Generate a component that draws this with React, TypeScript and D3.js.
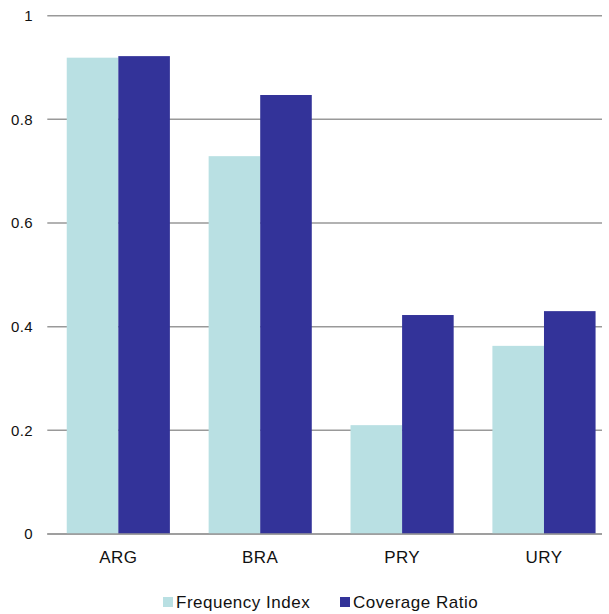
import React from "react";
import * as d3 from "d3";

const categories = ["ARG", "BRA", "PRY", "URY"];
const seriesNames = ["Frequency Index", "Coverage Ratio"];
const frequencyIndex = [0.919, 0.729, 0.21, 0.363];
const coverageRatio = [0.922, 0.847, 0.4225, 0.43];
const yTicks = [0, 0.2, 0.4, 0.6, 0.8, 1];
const colors = ["#B9E0E3", "#333399"];

export default function App() {
  const W = 609, H = 614;
  const left = 47.3, right = 602, top = 15.7, bottom = 534;
  const x = d3.scaleBand<string>().domain(categories).range([left, 615]).paddingInner(0.273).paddingOuter(0.137);
  const x1 = d3.scaleBand<string>().domain(seriesNames).range([0, x.bandwidth()]);
  const y = d3.scaleLinear().domain([0, 1]).range([bottom, top]);
  const series = [frequencyIndex, coverageRatio];
  const font = "'Liberation Sans', Arial, sans-serif";
  return (
    <svg width={W} height={H} style={{ position: "absolute", left: 0, top: 0 }} fontFamily={font}>
      <rect width={W} height={H} fill="#fff" />
      {yTicks.map((t) => (
        <g key={t}>
          <line x1={left} x2={right} y1={y(t)} y2={y(t)} stroke="#999" strokeWidth={1.5} />
          <text x={33} y={y(t)} dy="0.35em" textAnchor="end" fontSize={15} letterSpacing={0.4} fill="#111">
            {d3.format("~g")(t)}
          </text>
        </g>
      ))}
      {categories.map((c, i) => (
        <g key={c} transform={`translate(${x(c)},0)`}>
          {series.map((s, j) => (
            <rect
              key={j}
              x={x1(seriesNames[j])}
              y={y(s[i])}
              width={x1.bandwidth()}
              height={y(0) - y(s[i])}
              fill={colors[j]}
            />
          ))}
          <text x={x.bandwidth() / 2} y={562.5} textAnchor="middle" fontSize={17} letterSpacing={0.4} fill="#111">
            {c}
          </text>
        </g>
      ))}
      <line x1={left} x2={right} y1={y(0)} y2={y(0)} stroke="#999" strokeWidth={1.5} />
      {seriesNames.map((n, j) => {
        const lx = j === 0 ? 163 : 340;
        return (
          <g key={n}>
            <rect x={lx} y={597} width={10} height={10} fill={colors[j]} />
            <text x={lx + 13} y={608} fontSize={17} letterSpacing={0.5} fill="#111">
              {n}
            </text>
          </g>
        );
      })}
    </svg>
  );
}
